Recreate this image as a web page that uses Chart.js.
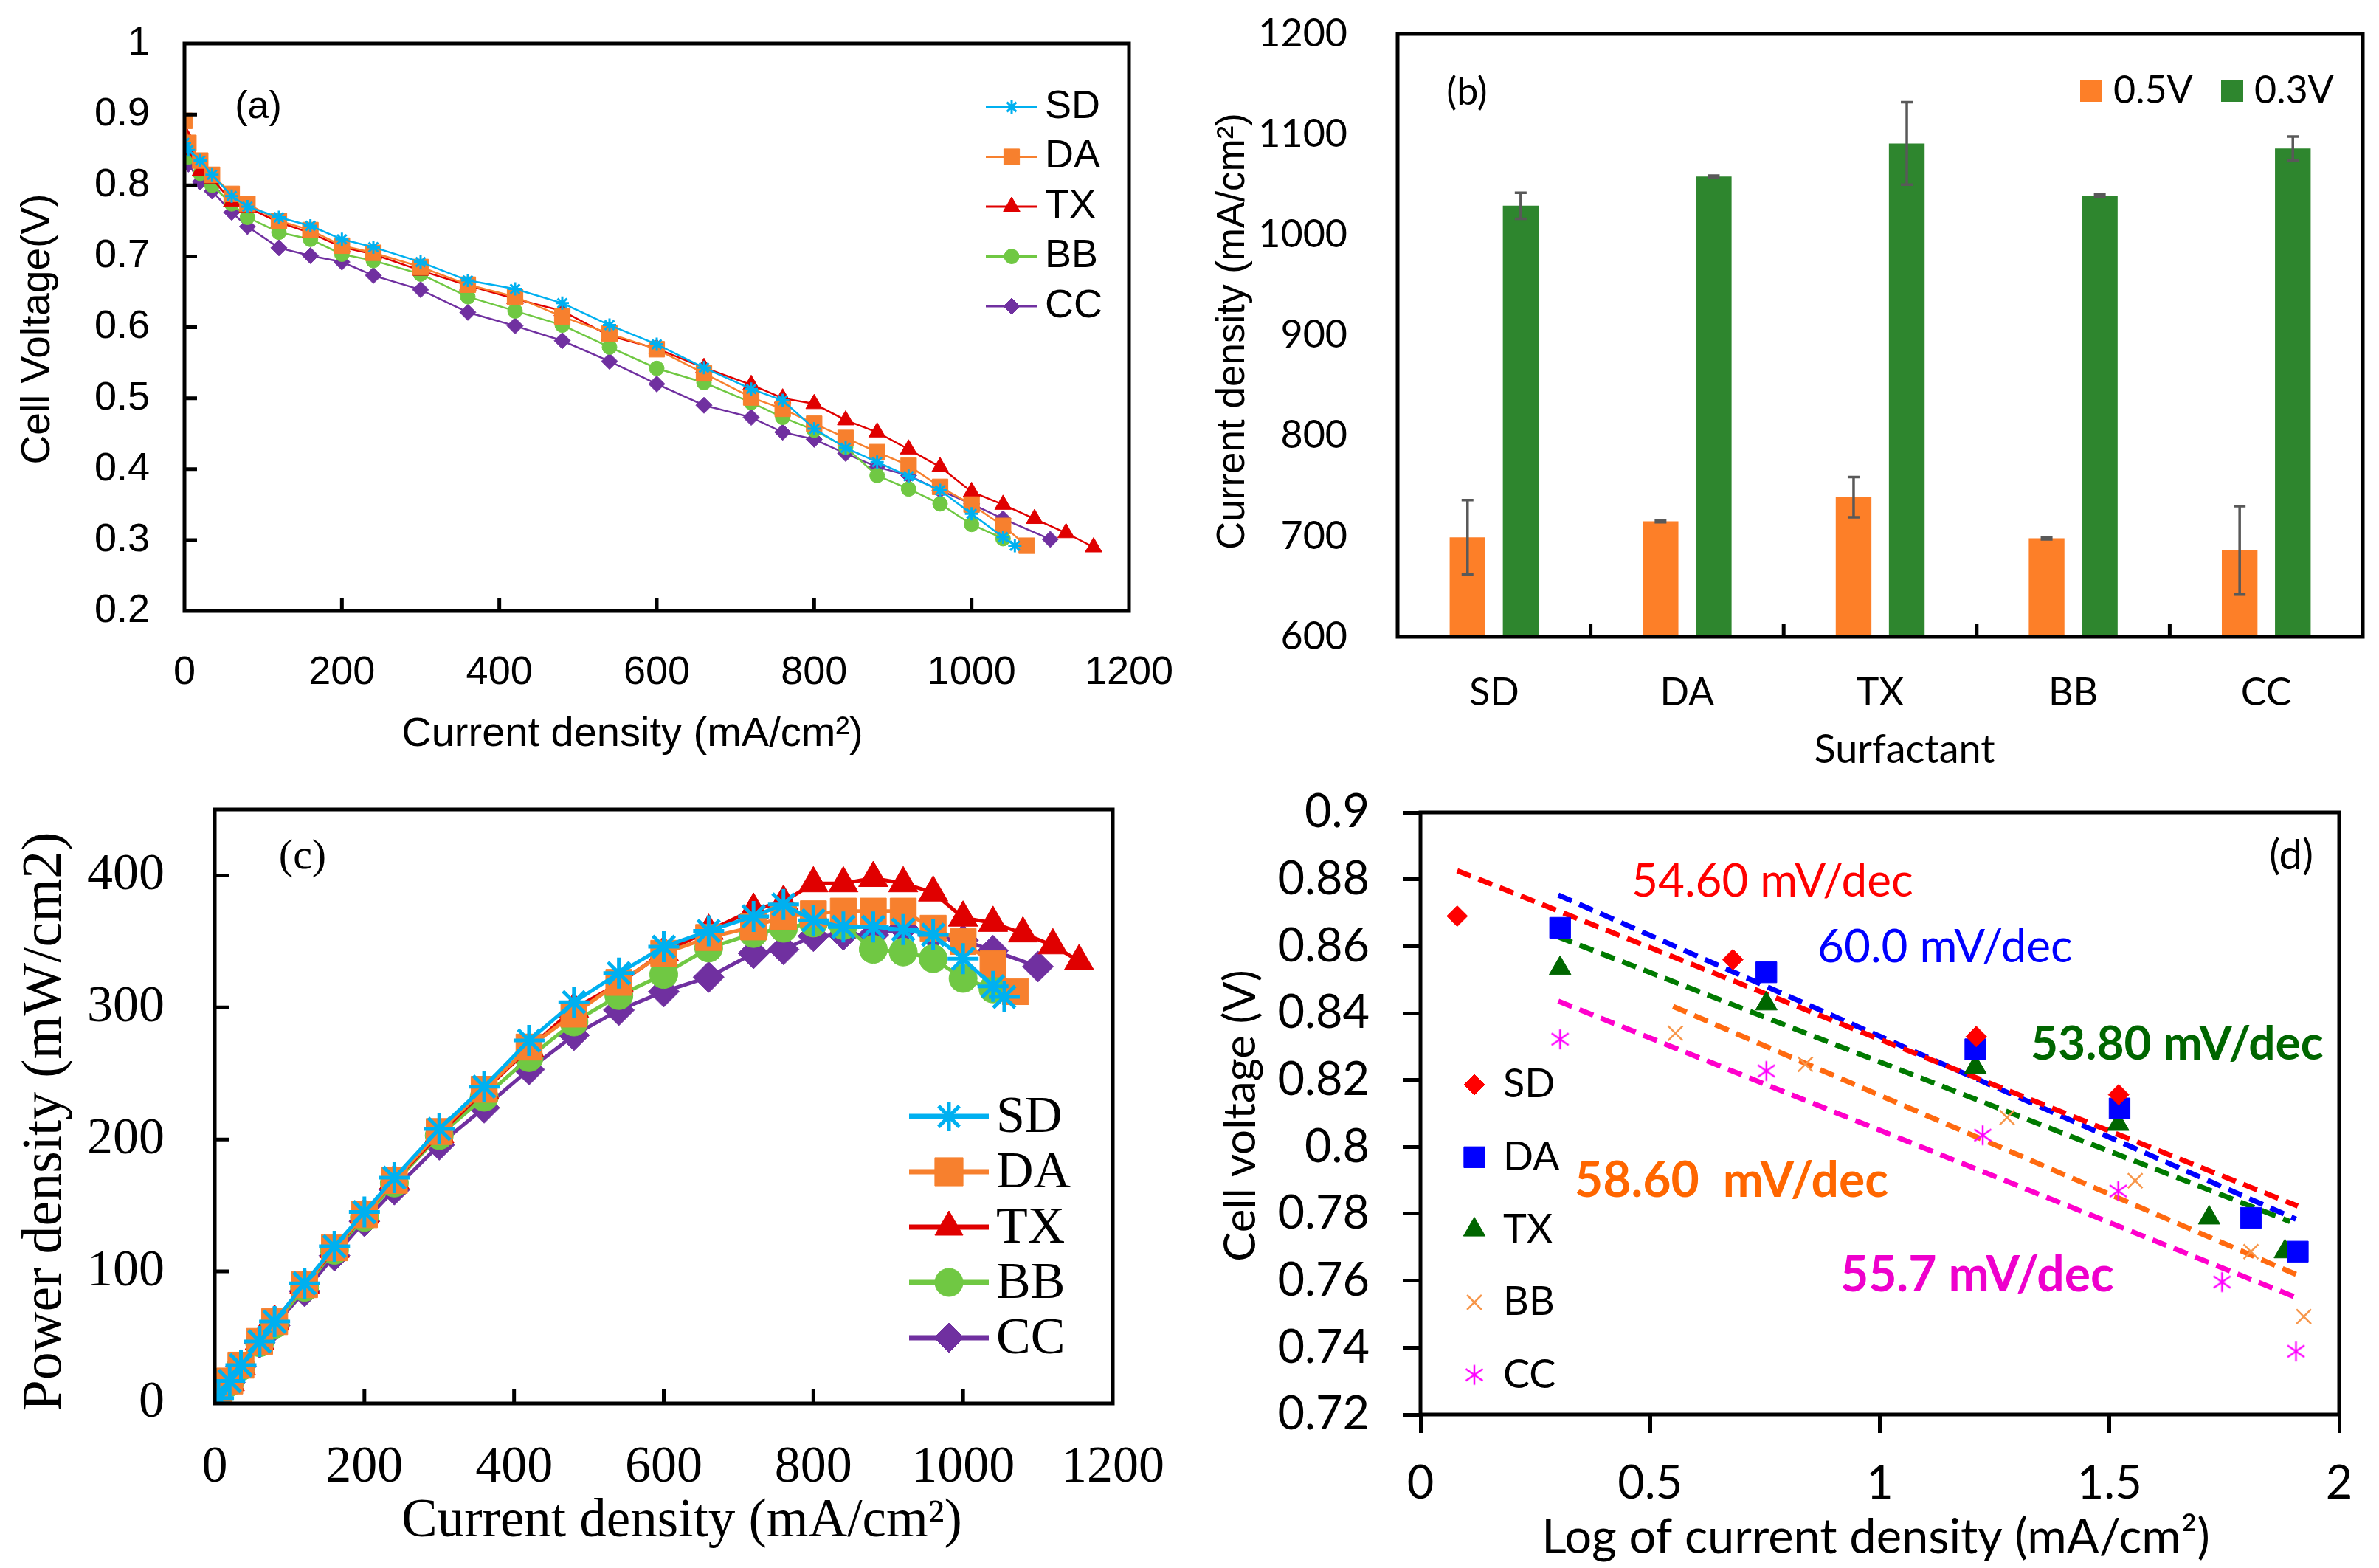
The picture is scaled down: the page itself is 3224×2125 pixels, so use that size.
<!DOCTYPE html>
<html>
<head>
<meta charset="utf-8">
<script src="https://cdn.jsdelivr.net/npm/chart.js@4.4.0/dist/chart.umd.min.js"></script>
<style>
html, body { margin: 0; padding: 0; background: #fff; }
body { width: 3224px; height: 2125px; position: relative; overflow: hidden; }
canvas { position: absolute; }
</style>
</head>
<body>
<canvas id="pa" width="1612" height="1050" style="left:0;top:0;width:1612px;height:1050px"></canvas>
<canvas id="pb" width="1612" height="1050" style="left:1612px;top:0;width:1612px;height:1050px"></canvas>
<canvas id="pc" width="1612" height="1075" style="left:0;top:1050px;width:1612px;height:1075px"></canvas>
<canvas id="pd" width="1612" height="1075" style="left:1612px;top:1050px;width:1612px;height:1075px"></canvas>
<script>
// ---- (a) polarization curves: current density (mA/cm2) and cell voltage (V)
var curSD = [0, 5, 20, 35, 60, 80, 120, 160, 200, 240, 300, 360, 420, 480, 540, 600, 660, 720, 760, 800, 840, 880, 920, 960, 1000, 1040, 1055];
var voltSD = [0.86, 0.85, 0.835, 0.815, 0.785, 0.77, 0.755, 0.743, 0.724, 0.713, 0.692, 0.666, 0.654, 0.634, 0.603, 0.576, 0.543, 0.513, 0.497, 0.457, 0.43, 0.41, 0.39, 0.37, 0.337, 0.304, 0.292];
var curDA = [0, 5, 20, 35, 60, 80, 120, 160, 200, 240, 300, 360, 420, 480, 540, 600, 660, 720, 760, 800, 840, 880, 920, 960, 1000, 1040, 1070];
var voltDA = [0.891, 0.86, 0.835, 0.815, 0.788, 0.774, 0.75, 0.737, 0.715, 0.705, 0.685, 0.66, 0.643, 0.615, 0.591, 0.569, 0.535, 0.501, 0.485, 0.464, 0.444, 0.424, 0.405, 0.375, 0.35, 0.32, 0.292];
var curTX = [0, 5, 20, 35, 60, 80, 120, 160, 200, 240, 300, 360, 420, 480, 540, 600, 660, 720, 760, 800, 840, 880, 920, 960, 1000, 1040, 1080, 1120, 1155];
var voltTX = [0.873, 0.85, 0.82, 0.81, 0.777, 0.769, 0.748, 0.733, 0.713, 0.703, 0.68, 0.659, 0.64, 0.623, 0.588, 0.57, 0.543, 0.519, 0.5, 0.492, 0.469, 0.452, 0.428, 0.403, 0.368, 0.35, 0.33, 0.31, 0.29];
var curBB = [0, 5, 20, 35, 60, 80, 120, 160, 200, 240, 300, 360, 420, 480, 540, 600, 660, 720, 760, 800, 840, 880, 920, 960, 1000, 1040];
var voltBB = [0.856, 0.84, 0.817, 0.8, 0.774, 0.755, 0.734, 0.724, 0.703, 0.694, 0.675, 0.643, 0.623, 0.603, 0.572, 0.542, 0.522, 0.494, 0.473, 0.455, 0.431, 0.391, 0.372, 0.351, 0.322, 0.302];
var curCC = [0, 5, 20, 35, 60, 80, 120, 160, 200, 240, 300, 360, 420, 480, 540, 600, 660, 720, 760, 800, 840, 880, 920, 960, 1000, 1040, 1100];
var voltCC = [0.849, 0.83, 0.805, 0.792, 0.762, 0.742, 0.712, 0.701, 0.692, 0.673, 0.653, 0.621, 0.602, 0.581, 0.552, 0.52, 0.49, 0.473, 0.452, 0.442, 0.422, 0.403, 0.391, 0.37, 0.351, 0.33, 0.301];

// ---- (b) current density at 0.5 V and 0.3 V, with error bars
var surfactants = ["SD", "DA", "TX", "BB", "CC"];
var cd05 = [699, 715, 739, 698, 686];
var err05 = [37, 1, 20, 1, 44];
var cd03 = [1029, 1058, 1091, 1039, 1086];
var err03 = [13, 1, 41, 1, 12];

// ---- (c) power density (mW/cm2), same current points as (a)
var powSD = [0, 4, 17, 29, 47, 62, 91, 119, 145, 171, 208, 240, 275, 304, 326, 346, 358, 369, 378, 366, 361, 361, 359, 355, 337, 316, 308];
var powDA = [0, 4.5, 17, 29, 47, 62, 90, 118, 143, 169, 206, 238, 270, 295, 319, 341, 353, 361, 369, 371, 373, 373, 373, 360, 350, 333, 312];
var powTX = [0, 4, 16, 28, 47, 62, 90, 117, 143, 169, 204, 237, 269, 299, 318, 342, 358, 374, 380, 394, 394, 398, 394, 387, 368, 364, 356, 347, 335];
var powBB = [0, 4, 16, 28, 46, 60, 88, 116, 141, 167, 203, 232, 262, 289, 309, 325, 345, 356, 360, 364, 362, 344, 342, 337, 322, 314];
var powCC = [0, 4, 16, 28, 46, 59, 85, 112, 138, 162, 196, 224, 253, 279, 298, 312, 323, 341, 344, 354, 355, 355, 360, 355, 351, 343, 331];

// ---- (d) Tafel region: log current density vs cell voltage, with fitted lines
var logSD = [0.08, 0.68, 1.21, 1.52];
var tafSD = [0.869, 0.856, 0.833, 0.8156];
var logDA = [0.304, 0.753, 1.208, 1.522, 1.808, 1.91];
var tafDA = [0.8655, 0.8522, 0.8292, 0.8115, 0.7788, 0.7687];
var logTX = [0.304, 0.753, 1.208, 1.519, 1.717, 1.882];
var tafTX = [0.8534, 0.8428, 0.8239, 0.8068, 0.7788, 0.7687];
var logBB = [0.555, 0.838, 1.277, 1.556, 1.808, 1.923];
var tafBB = [0.834, 0.8247, 0.8088, 0.7899, 0.7687, 0.7493];
var logCC = [0.304, 0.753, 1.224, 1.519, 1.745, 1.906];
var tafCC = [0.8322, 0.8227, 0.8035, 0.7868, 0.7596, 0.7389];
var fitLogSD = [0.08, 1.91], fitSD = [0.8826, 0.7823];
var fitLogDA = [0.30, 1.906], fitDA = [0.8753, 0.7784];
var fitLogTX = [0.30, 1.893], fitTX = [0.8628, 0.7777];
var fitLogBB = [0.55, 1.906], fitBB = [0.842, 0.7619];
var fitLogCC = [0.30, 1.906], fitCC = [0.8436, 0.755];
var slopes = ["54.60 mV/dec", "60.0 mV/dec", "53.80 mV/dec", "58.60  mV/dec", "55.7 mV/dec"];

function pts(xs, ys) {
    return xs.map(function (x, i) { return {x: x, y: ys[i]}; });
}

Chart.defaults.color = "#000";

// frame round the plot area plus tick marks (inside or outside)
function makeFrame(width, xLen, yLen, xBetween) {
    return {
        id: "frame",
        afterDatasetsDraw: function (chart) {
            var ctx = chart.ctx, a = chart.chartArea;
            var xs = chart.scales.x, ys = chart.scales.y;
            var i, p;
            ctx.save();
            ctx.strokeStyle = "#000000";
            ctx.lineWidth = width;
            ctx.beginPath();
            if (xLen) {
                var xt = xs.ticks.map(function (t) { return xs.getPixelForValue(t.value); });
                if (xBetween) {
                    var mids = [];
                    for (i = 0; i < xt.length - 1; i++) mids.push((xt[i] + xt[i + 1]) / 2);
                    xt = mids;
                }
                for (i = 0; i < xt.length; i++) {
                    p = xt[i];
                    ctx.moveTo(p, a.bottom);
                    ctx.lineTo(p, a.bottom - xLen);
                }
            }
            if (yLen) {
                for (i = 0; i < ys.ticks.length; i++) {
                    p = ys.getPixelForValue(ys.ticks[i].value);
                    ctx.moveTo(a.left, p);
                    ctx.lineTo(a.left + yLen, p);
                }
            }
            ctx.rect(a.left, a.top, a.right - a.left, a.bottom - a.top);
            ctx.stroke();
            ctx.restore();
        }
    };
}

// legend drawn from the datasets
function makeLegend(o) {
    return {
        id: "boxLegend",
        afterDraw: function (chart) {
            var ctx = chart.ctx;
            ctx.save();
            ctx.font = o.font;
            ctx.textBaseline = "middle";
            o.items.forEach(function (idx, k) {
                var ds = chart.data.datasets[idx];
                var x = o.x + k * (o.dx || 0), y = o.y + k * (o.dy || 0);
                var col = ds.borderColor || ds.backgroundColor;
                if (o.box) {
                    ctx.fillStyle = ds.backgroundColor;
                    ctx.fillRect(x - o.box / 2, y - o.box / 2, o.box, o.box);
                } else {
                    if (o.line) {
                        ctx.strokeStyle = col;
                        ctx.lineWidth = o.lineWidth;
                        ctx.beginPath();
                        ctx.moveTo(x - o.line / 2, y);
                        ctx.lineTo(x + o.line / 2, y);
                        ctx.stroke();
                    }
                    ctx.fillStyle = ds.pointBackgroundColor || col;
                    ctx.strokeStyle = ds.pointBorderColor || col;
                    ctx.lineWidth = ds.pointBorderWidth || 1;
                    Chart.helpers.drawPoint(ctx, {
                        pointStyle: ds.pointStyle,
                        radius: o.radius ? o.radius[k] : ds.pointRadius,
                        rotation: 0,
                        borderWidth: ds.pointBorderWidth || 1
                    }, x, y);
                }
                ctx.fillStyle = "#000";
                ctx.textAlign = "left";
                ctx.fillText(ds.label, x + o.textDx, y + (o.textDy || 0));
            });
            ctx.restore();
        }
    };
}

// free text: panel letters, axis titles, slope labels
function makeNotes(items) {
    return {
        id: "notes",
        afterDraw: function (chart) {
            var ctx = chart.ctx;
            items.forEach(function (n) {
                ctx.save();
                ctx.font = n.font;
                ctx.fillStyle = n.color || "#000";
                ctx.textAlign = n.align || "left";
                ctx.textBaseline = "middle";
                ctx.translate(n.x, n.y);
                if (n.rot) ctx.rotate(n.rot);
                ctx.fillText(n.text, 0, 0);
                ctx.restore();
            });
        }
    };
}

// error bars for the bar panel
function makeErrors(errors, color, width, cap) {
    return {
        id: "errorBars",
        afterDatasetsDraw: function (chart) {
            var ctx = chart.ctx, ys = chart.scales.y;
            ctx.save();
            ctx.strokeStyle = color;
            ctx.lineWidth = width;
            errors.forEach(function (errs, i) {
                var meta = chart.getDatasetMeta(i);
                var vals = chart.data.datasets[i].data;
                meta.data.forEach(function (bar, j) {
                    var top = ys.getPixelForValue(vals[j] + errs[j]);
                    var bot = ys.getPixelForValue(vals[j] - errs[j]);
                    ctx.beginPath();
                    ctx.moveTo(bar.x, top);
                    ctx.lineTo(bar.x, bot);
                    ctx.moveTo(bar.x - cap, top);
                    ctx.lineTo(bar.x + cap, top);
                    ctx.moveTo(bar.x - cap, bot);
                    ctx.lineTo(bar.x + cap, bot);
                    ctx.stroke();
                });
            });
            ctx.restore();
        }
    };
}

function trimNum(v) {
    return String(+Number(v).toFixed(2));
}

// fixed axis box size, no extra label padding pushed into the layout
function fixW(w) {
    return function (s) { s.width = w; s.paddingTop = 0; s.paddingBottom = 0; };
}
function fixH(h) {
    return function (s) { s.height = h; s.paddingLeft = 0; s.paddingRight = 0; };
}

function axis(extra) {
    var base = {
        type: "linear",
        grid: {display: false, drawTicks: false},
        border: {display: false}
    };
    return Object.assign(base, extra);
}

// outward tick marks drawn by the library itself (panel d)
function outAxis(extra, len) {
    var base = {
        type: "linear",
        grid: {display: true, drawOnChartArea: false, drawTicks: true, tickLength: len,
            tickWidth: 5, color: "#000"},
        border: {display: false}
    };
    return Object.assign(base, extra);
}

var COL = {SD: "#00B0F0", DA: "#F7802E", TX: "#E00000", BB: "#70C843", CC: "#7030A0"};

function lineSet(label, xs, ys, color, style, r, bw, lw) {
    return {
        label: label,
        data: pts(xs, ys),
        showLine: true,
        borderColor: color,
        backgroundColor: color,
        borderWidth: lw,
        pointStyle: style,
        pointRadius: r,
        pointBackgroundColor: color,
        pointBorderColor: color,
        pointBorderWidth: bw,
        tension: 0
    };
}

var noLegend = {legend: {display: false}, tooltip: {enabled: false}};

// ================= (a)
var fontA = "'Liberation Sans', Arial, sans-serif";
new Chart(document.getElementById("pa"), {
    type: "scatter",
    data: {
        datasets: [
            lineSet("SD", curSD, voltSD, COL.SD, "star", 9, 3, 2.5),
            lineSet("DA", curDA, voltDA, COL.DA, "rect", 15, 1, 2.5),
            lineSet("TX", curTX, voltTX, COL.TX, "triangle", 13, 1, 2.5),
            lineSet("BB", curBB, voltBB, COL.BB, "circle", 10, 1, 2.5),
            lineSet("CC", curCC, voltCC, COL.CC, "rectRot", 11, 1, 2.5)
        ]
    },
    options: {
        responsive: false, animation: false, devicePixelRatio: 1,
        layout: {padding: {left: 0, top: 59, right: 82, bottom: 0}},
        plugins: noLegend,
        scales: {
            x: axis({
                min: 0, max: 1200,
                ticks: {stepSize: 200, padding: 52, font: {family: fontA, size: 54}, callback: trimNum},
                afterFit: fixH(222)
            }),
            y: axis({
                min: 0.2, max: 1,
                ticks: {stepSize: 0.1, padding: 47, font: {family: fontA, size: 54}, callback: trimNum},
                afterFit: fixW(250)
            })
        }
    },
    plugins: [
        makeFrame(5, 17, 17, false),
        makeLegend({items: [0, 1, 2, 3, 4], x: 1371, y: 145, dy: 67.5,
            line: 70, lineWidth: 3, textDx: 45, font: "54px " + fontA}),
        makeNotes([
            {text: "(a)", x: 350, y: 146, align: "center", font: "52px " + fontA},
            {text: "Current density (mA/cm²)", x: 857, y: 996, align: "center", font: "56px " + fontA},
            {text: "Cell Voltage(V)", x: 52, y: 446, align: "center", rot: -Math.PI / 2, font: "55px " + fontA}
        ])
    ]
});

// ================= (b)
var fontB = "Lato, 'Liberation Sans', sans-serif";
new Chart(document.getElementById("pb"), {
    type: "bar",
    data: {
        labels: surfactants,
        datasets: [
            {label: "0.5V", data: cd05, backgroundColor: "#FD7F28", base: 600,
                categoryPercentage: 0.551, barPercentage: 0.671},
            {label: "0.3V", data: cd03, backgroundColor: "#2E862E", base: 600,
                categoryPercentage: 0.551, barPercentage: 0.671}
        ]
    },
    options: {
        responsive: false, animation: false, devicePixelRatio: 1,
        layout: {padding: {left: 0, top: 46, right: 22, bottom: 0}},
        plugins: noLegend,
        scales: {
            x: {
                grid: {display: false, drawTicks: false}, border: {display: false},
                ticks: {padding: 45, font: {family: fontB, size: 52}},
                afterFit: fixH(187)
            },
            y: axis({
                min: 600, max: 1200,
                ticks: {stepSize: 100, padding: 68, font: {family: fontB, size: 52}, callback: trimNum},
                afterFit: fixW(282)
            })
        }
    },
    plugins: [
        makeErrors([err05, err03], "#595959", 3.5, 8),
        makeFrame(5, 18, 0, true),
        makeLegend({items: [0, 1], x: 1222, y: 123, dx: 191, box: 30, textDx: 30, font: "52px " + fontB}),
        makeNotes([
            {text: "(b)", x: 376, y: 125, align: "center", font: "52px " + fontB},
            {text: "Surfactant", x: 969, y: 1017, align: "center", font: "54px " + fontB},
            {text: "Current density (mA/cm²)", x: 59, y: 449, align: "center", rot: -Math.PI / 2,
                font: "53px 'Liberation Sans', Arial, sans-serif"}
        ])
    ]
});

// ================= (c)
var fontC = "'Liberation Serif', 'Times New Roman', serif";
new Chart(document.getElementById("pc"), {
    type: "scatter",
    data: {
        datasets: [
            lineSet("SD", curSD, powSD, COL.SD, "star", 21, 5, 5),
            lineSet("DA", curDA, powDA, COL.DA, "rect", 25, 1, 5),
            lineSet("TX", curTX, powTX, COL.TX, "triangle", 23, 1, 5),
            lineSet("BB", curBB, powBB, COL.BB, "circle", 19, 1, 5),
            lineSet("CC", curCC, powCC, COL.CC, "rectRot", 21, 1, 5)
        ]
    },
    options: {
        responsive: false, animation: false, devicePixelRatio: 1,
        layout: {padding: {left: 0, top: 47, right: 104, bottom: 0}},
        plugins: noLegend,
        scales: {
            x: axis({
                min: 0, max: 1200,
                ticks: {stepSize: 200, padding: 46, font: {family: fontC, size: 70}, callback: trimNum},
                afterFit: fixH(223)
            }),
            y: axis({
                min: 0, max: 450,
                ticks: {stepSize: 100, includeBounds: false, padding: 68, font: {family: fontC, size: 70}},
                afterFit: fixW(291)
            })
        }
    },
    plugins: [
        makeFrame(5, 20, 20, false),
        makeLegend({items: [0, 1, 2, 3, 4], x: 1286, y: 463, dy: 75,
            line: 108, lineWidth: 7, textDx: 64, textDy: 3, font: "70px " + fontC,
            radius: [20, 27, 22, 19, 20]}),
        makeNotes([
            {text: "(c)", x: 410, y: 112, align: "center", font: "58px " + fontC},
            {text: "Current density (mA/cm²)", x: 924, y: 1013, align: "center", font: "73px " + fontC},
            {text: "Power density (mW/cm2)", x: 62, y: 470, align: "center", rot: -Math.PI / 2,
                font: "76px " + fontC}
        ])
    ]
});

// ================= (d)
function asterisk(color, size, lw) {
    var c = document.createElement("canvas");
    c.width = size;
    c.height = size;
    var g = c.getContext("2d");
    var m = size / 2, r = size / 2 - lw;
    g.strokeStyle = color;
    g.lineWidth = lw;
    g.beginPath();
    g.moveTo(m, m - r);
    g.lineTo(m, m + r);
    g.moveTo(m - r * 0.85, m - r * 0.6);
    g.lineTo(m + r * 0.85, m + r * 0.6);
    g.moveTo(m - r * 0.85, m + r * 0.6);
    g.lineTo(m + r * 0.85, m - r * 0.6);
    g.stroke();
    return c;
}

function pointSet(label, xs, ys, color, style, r, bw) {
    return {
        label: label, data: pts(xs, ys), showLine: false,
        borderColor: color, backgroundColor: color,
        pointStyle: style, pointRadius: r,
        pointBackgroundColor: color, pointBorderColor: color, pointBorderWidth: bw
    };
}

function fitSet(xs, ys, color) {
    return {
        label: "", data: pts(xs, ys), showLine: true, borderColor: color,
        borderWidth: 7, borderDash: [20, 11], pointRadius: 0
    };
}

var fontD = "Lato, 'Liberation Sans', sans-serif";
new Chart(document.getElementById("pd"), {
    type: "scatter",
    data: {
        datasets: [
            pointSet("SD", logSD, tafSD, "#FF0000", "rectRot", 14, 1),
            pointSet("DA", logDA, tafDA, "#0000FF", "rect", 20, 1),
            pointSet("TX", logTX, tafTX, "#006600", "triangle", 17, 1),
            pointSet("BB", logBB, tafBB, "#F7964A", "crossRot", 14, 2.5),
            pointSet("CC", logCC, tafCC, "#FF00FF", asterisk("#FF00FF", 32, 2.5), 16, 1),
            fitSet(fitLogSD, fitSD, "#FF0000"),
            fitSet(fitLogDA, fitDA, "#0000FF"),
            fitSet(fitLogTX, fitTX, "#007A00"),
            fitSet(fitLogBB, fitBB, "#FF6A10"),
            fitSet(fitLogCC, fitCC, "#FF00CC")
        ]
    },
    options: {
        responsive: false, animation: false, devicePixelRatio: 1,
        layout: {padding: {left: 0, top: 51, right: 54, bottom: 0}},
        plugins: noLegend,
        scales: {
            x: outAxis({
                min: 0, max: 2,
                ticks: {stepSize: 0.5, padding: 31, font: {family: fontD, size: 63}, callback: trimNum},
                afterFit: fixH(208)
            }, 25),
            y: outAxis({
                min: 0.72, max: 0.9,
                ticks: {stepSize: 0.02, padding: 45, font: {family: fontD, size: 63}, callback: trimNum},
                afterFit: fixW(313)
            }, 24)
        }
    },
    plugins: [
        makeFrame(5, 0, 0, false),
        makeLegend({items: [0, 1, 2, 3, 4], x: 386, y: 420, dy: 98.3, textDx: 39, font: "54px " + fontD}),
        makeNotes([
            {text: slopes[0], x: 599, y: 145, color: "#FF0000", font: "62px " + fontD},
            {text: slopes[1], x: 851, y: 234, color: "#0000FF", font: "62px " + fontD},
            {text: slopes[2], x: 1140, y: 365, color: "#006600", font: "bold 64px " + fontD},
            {text: slopes[3], x: 522, y: 551, color: "#FF6600", font: "bold 66px " + fontD},
            {text: slopes[4], x: 882, y: 679, color: "#EE00CC", font: "bold 66px " + fontD},
            {text: "(d)", x: 1493, y: 110, align: "center", font: "56px " + fontD},
            {text: "Log of current density (mA/cm²)", x: 930, y: 1034, align: "center", font: "65px " + fontD},
            {text: "Cell voltage (V)", x: 70, y: 462, align: "center", rot: -Math.PI / 2, font: "60px " + fontD}
        ])
    ]
});
</script>
</body>
</html>
